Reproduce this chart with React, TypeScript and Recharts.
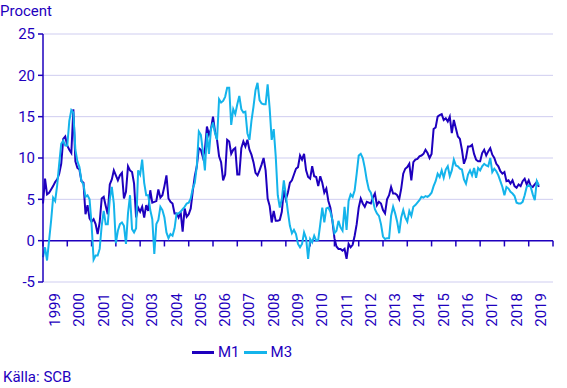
import React from "react";
import {
  LineChart,
  Line,
  XAxis,
  YAxis,
  CartesianGrid,
  ReferenceLine,
} from "recharts";

const START_YEAR = 1999;
const END_YEAR = 2020;
const YEAR_LABELS = [
  1999, 2000, 2001, 2002, 2003, 2004, 2005, 2006, 2007, 2008, 2009, 2010,
  2011, 2012, 2013, 2014, 2015, 2016, 2017, 2018, 2019,
];
const Y_TICKS = [-5, 0, 5, 10, 15, 20, 25];

// monthly growth rate, jan 1999 - jun 2019
const M1 = [
  4.5, 7.5, 5.6, 5.8, 6.2, 6.6, 7.1, 7.4, 8.1, 9.3, 12.3, 12.6, // 1999
  11.5, 11.0, 10.6, 15.9, 9.6, 8.8, 8.6, 7.2, 7.0, 3.2, 4.3, 2.7, // 2000
  2.3, 2.6, 2.0, 0.8, 2.2, 5.1, 5.3, 4.2, 3.2, 6.8, 7.4, 8.5, // 2001
  7.9, 7.3, 7.9, 8.2, 5.1, 5.9, 9.0, 8.5, 8.3, 6.9, 2.8, 4.0, // 2002
  3.5, 4.1, 2.8, 4.3, 3.6, 6.1, 4.6, 4.7, 4.8, 6.2, 5.2, 5.5, // 2003
  6.6, 7.9, 5.1, 4.7, 4.5, 3.3, 3.3, 2.8, 3.5, 1.1, 3.9, 2.9, // 2004
  3.2, 3.9, 6.0, 7.8, 9.0, 11.2, 11.0, 10.1, 11.0, 13.8, 12.8, 13.5, // 2005
  15.0, 13.2, 12.2, 10.2, 9.5, 7.3, 8.0, 12.2, 12.0, 10.5, 11.0, 11.2, // 2006
  8.0, 8.0, 11.2, 12.0, 11.4, 12.2, 11.0, 10.4, 9.5, 8.2, 7.9, 8.5, // 2007
  9.2, 10.0, 8.5, 5.1, 4.2, 2.2, 3.6, 2.4, 2.4, 2.5, 3.5, 6.1, // 2008
  5.0, 5.8, 7.0, 7.3, 8.0, 8.7, 8.9, 10.3, 9.8, 10.5, 8.5, 7.7, // 2009
  7.5, 9.0, 7.8, 7.7, 6.6, 7.8, 7.0, 5.8, 6.3, 4.8, 4.0, 2.4, // 2010
  0.3, -0.7, -1.0, -1.0, -1.2, -1.0, -2.2, -0.4, -0.8, -0.5, 0.6, 2.0, // 2011
  4.0, 5.1, 4.5, 4.1, 4.7, 4.6, 4.5, 5.2, 5.7, 4.3, 4.7, 4.5, // 2012
  3.7, 3.3, 5.0, 5.5, 6.5, 5.7, 5.7, 5.5, 5.0, 6.3, 8.1, 8.7, // 2013
  8.9, 9.3, 7.3, 9.5, 9.8, 9.9, 10.2, 10.3, 10.5, 11.0, 10.6, 10.0, // 2014
  10.5, 13.5, 13.7, 15.0, 15.2, 15.3, 14.6, 14.8, 14.4, 15.0, 13.0, 14.6, // 2015
  13.6, 12.6, 12.3, 11.0, 9.3, 10.0, 11.4, 11.4, 11.6, 10.5, 9.8, 9.6, // 2016
  9.6, 10.6, 11.0, 10.3, 10.8, 11.2, 10.4, 10.0, 9.3, 9.0, 8.4, 8.1, // 2017
  8.3, 7.2, 7.3, 6.9, 7.3, 6.6, 6.4, 6.8, 6.6, 7.2, 7.5, 6.8, // 2018
  7.3, 6.6, 6.5, 6.8, 7.1, 6.5, // 2019
];

const M3 = [
  -2.0, -0.8, -2.4, 0.0, 2.4, 5.2, 4.8, 6.7, 9.3, 11.7, 12.1, 11.5, // 1999
  11.5, 14.5, 15.8, 15.5, 11.0, 9.6, 8.9, 7.2, 6.8, 5.3, 5.5, 5.0, // 2000
  2.0, -2.3, -1.8, -1.8, -1.0, 1.8, 3.6, 2.0, 2.0, 5.0, 6.5, 4.5, // 2001
  -0.3, 1.2, 2.0, 2.2, 1.8, -0.4, 3.3, 5.5, 1.4, 1.0, 1.5, 8.5, // 2002
  8.0, 9.8, 7.0, 5.5, 5.5, 3.7, 2.6, -1.6, 2.0, 2.5, 4.1, 3.7, // 2003
  2.8, 1.0, 0.3, 0.8, 0.6, 1.5, 3.3, 3.3, 3.5, 3.8, 4.1, 4.5, // 2004
  4.6, 5.1, 6.3, 7.0, 9.0, 13.2, 12.8, 10.8, 8.5, 13.0, 10.5, 13.5, // 2005
  14.3, 13.0, 12.2, 17.1, 16.7, 16.9, 17.4, 18.5, 18.5, 14.0, 15.9, 15.3, // 2006
  16.5, 17.5, 15.9, 15.5, 15.6, 13.0, 12.2, 14.5, 16.2, 18.2, 19.1, 17.0, // 2007
  16.6, 16.5, 16.5, 18.9, 16.0, 12.2, 13.5, 10.2, 5.5, 4.0, 5.0, 7.3, // 2008
  5.5, 3.5, 1.8, 0.9, 1.3, 0.8, -0.4, -0.8, -0.4, 1.0, 0.3, -2.2, // 2009
  0.2, -0.2, 0.6, 0.0, 0.1, 2.0, 4.0, 2.2, 3.9, 4.0, 3.5, 2.5, // 2010
  0.9, 1.2, 2.4, 1.6, 1.2, 4.1, 1.3, 4.8, 5.6, 5.3, 6.1, 8.1, // 2011
  10.3, 10.5, 10.0, 8.8, 7.3, 6.2, 5.8, 4.9, 3.8, 3.3, 3.0, 2.0, // 2012
  0.5, 0.2, 0.3, 0.3, 3.0, 4.1, 3.3, 2.3, 0.9, 2.8, 3.7, 2.8, // 2013
  2.3, 3.6, 3.0, 4.1, 4.3, 4.6, 4.9, 5.3, 5.2, 5.4, 5.3, 5.5, // 2014
  5.8, 6.6, 7.2, 8.1, 7.7, 8.5, 7.6, 8.6, 9.0, 7.8, 8.5, 9.8, // 2015
  9.1, 9.0, 8.7, 8.6, 7.4, 6.9, 8.0, 8.5, 7.9, 8.8, 7.6, 8.8, // 2016
  8.5, 9.0, 9.3, 9.1, 9.0, 10.0, 8.3, 8.7, 8.4, 7.9, 7.2, 6.5, // 2017
  5.5, 6.5, 6.3, 5.9, 5.7, 5.4, 4.6, 4.5, 4.5, 4.7, 5.5, 6.5, // 2018
  6.7, 6.5, 5.6, 4.9, 7.2, 6.7, // 2019
];

const TEXT = "#1e00be";
const DARK = "#1e00be";
const LIGHT = "#14b4eb";
const GRID = "#cfcdf0";
const FONT = "Roboto, sans-serif";

const data = M1.map((v, i) => ({
  t: START_YEAR + i / 12,
  m1: v,
  m3: M3[i],
}));

const yearTickMarks: number[] = [];
for (let y = START_YEAR; y <= END_YEAR; y++) yearTickMarks.push(y);

const YearTick = (props: any) => {
  const { x, y, payload } = props;
  return (
    <text
      x={x}
      y={y}
      dx={-11}
      dy={5}
      transform={`rotate(-90, ${x}, ${y})`}
      textAnchor="end"
      fill={TEXT}
      fontSize={15}
      fontFamily={FONT}
    >
      {Math.floor(payload.value)}
    </text>
  );
};

export default function App() {
  return (
    <div
      style={{
        position: "absolute",
        left: 0,
        top: 0,
        width: 567,
        height: 388,
        background: "#fff",
        fontFamily: FONT,
        color: TEXT,
      }}
    >
      <div style={{ position: "absolute", left: 0, top: 4, fontSize: 15, lineHeight: "15px" }}>
        Procent
      </div>
      <LineChart
        width={567}
        height={388}
        data={data}
        margin={{ top: 34, right: 14, bottom: 56, left: 0 }}
      >
        <CartesianGrid vertical={false} stroke={GRID} />
        <XAxis
          dataKey="t"
          type="number"
          domain={[START_YEAR, END_YEAR]}
          ticks={YEAR_LABELS.map((y) => y + 0.5)}
          tick={<YearTick />}
          axisLine={false}
          tickLine={false}
          tickSize={0}
          tickMargin={0}
          height={50}
          interval={0}
        />
        <YAxis
          domain={[-5, 25]}
          ticks={Y_TICKS}
          width={43}
          axisLine={{ stroke: DARK, strokeWidth: 1.5 }}
          tickLine={{ stroke: DARK, strokeWidth: 1.5 }}
          tickSize={5}
          tickMargin={3}
          tick={{ fill: TEXT, fontSize: 15, fontFamily: FONT }}
          allowDataOverflow
        />
        <ReferenceLine y={0} stroke={DARK} strokeWidth={1.5} />
        {yearTickMarks.map((yr) => (
          <ReferenceLine
            key={yr}
            segment={[
              { x: yr, y: 0 },
              { x: yr, y: -0.7 },
            ]}
            stroke={DARK}
            strokeWidth={1.5}
          />
        ))}
        <Line
          type="linear"
          dataKey="m1"
          stroke={DARK}
          strokeWidth={2}
          dot={false}
          isAnimationActive={false}
        />
        <Line
          type="linear"
          dataKey="m3"
          stroke={LIGHT}
          strokeWidth={2}
          dot={false}
          isAnimationActive={false}
        />
      </LineChart>
      <div
        style={{
          position: "absolute",
          left: 192,
          top: 344,
          display: "flex",
          alignItems: "center",
          fontSize: 15,
          lineHeight: "16px",
        }}
      >
        <span style={{ width: 22, height: 3, background: DARK, marginRight: 4 }} />
        <span style={{ marginRight: 4 }}>M1</span>
        <span style={{ width: 23, height: 3, background: LIGHT, marginRight: 4 }} />
        <span>M3</span>
      </div>
      <div style={{ position: "absolute", left: 3, top: 370, fontSize: 15, lineHeight: "15px" }}>
        Källa: SCB
      </div>
    </div>
  );
}
